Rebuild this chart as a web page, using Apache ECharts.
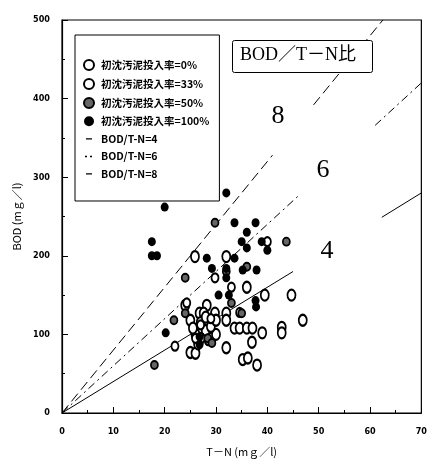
<!DOCTYPE html>
<html>
<head>
<meta charset="utf-8">
<script src="https://cdn.jsdelivr.net/npm/echarts@6/dist/echarts.min.js"></script>
<style>
html,body{margin:0;padding:0;background:#fff;}
#chart{width:430px;height:462px;}
</style>
</head>
<body>
<div id="chart"></div>
<script>
// 凡例
var names = ['初沈汚泥投入率=0%','初沈汚泥投入率=33%','初沈汚泥投入率=50%','初沈汚泥投入率=100%','BOD/T-N=4','BOD/T-N=6','BOD/T-N=8'];
var xTicks = [0,10,20,30,40,50,60,70];
var yTicks = [0,100,200,300,400,500];

// [T-N, BOD]
var rate0 = [[25.9,199],[32,199],[36,160],[39.5,150],[44.7,150],[24,137],[28.2,137],[26.8,127],[27.6,127],[29.8,127],
	[32,127],[25,118],[32,118],[33.6,108],[34.6,108],[36,108],[37.1,108],[39,102],[42.8,109],[42.8,102],[46.9,118],
	[37,90],[32,83],[25,77],[26,76],[35.2,68],[36.2,70],[38,61],[27,115],[28,105],[29,95],[30,100],[27,95],[26,100],
	[29,110],[30,118],[28,122],[26.5,88],[25.5,108]];
var rate33 = [[40,218],[29.8,172],[22,85],[24.3,140],[27,112],[29,120],[34.6,128],[28.5,92],[26,95],[33,160]];
var rate50 = [[29.8,242],[43.7,218],[36,186],[32,180],[24,172],[33,140],[35,127],[24,127],[21.8,118],[18,61],
	[28.4,95],[29.2,89]];
var rate100 = [[32,280],[20,262],[17.5,218],[17.5,200],[18.5,200],[33.6,242],[37.7,242],[36,230],[35,218],[38.9,218],
	[36,210],[40,207],[28.2,197],[33.6,197],[29.2,184],[32,184],[35.2,182],[37.9,182],[32,172],[30.5,150],[32.5,150],
	[37.7,143],[37.8,135],[20.2,102],[26.8,97],[26.8,87]];
// 比の直線 (切れ目あり)
var line4 = [[0,0],[45,180],'-',[62.3,249],[70,280]];
var line6 = [[0,0],[46,276],'-',[61,366],[70,420]];
var line8 = [[0,0],[41,328],'-',[49,392],[62.5,500]];

// 凡例アイコン (外枠の点で 10x10 の枠を固定)
var iconLine = 'path://M0,0h.01v.01h-.01z M2,4.5h6v1.2h-6z M9.99,9.99h.01v.01h-.01z';
var iconDots = 'path://M0,0h.01v.01h-.01z M1,4.5h2v1.4h-2z M6,4.5h2v1.4h-2z M9.99,9.99h.01v.01h-.01z';

var myChart = echarts.init(document.getElementById('chart'));
var axisFont = {fontFamily:'Liberation Sans Narrow, DejaVu Sans Condensed, sans-serif',fontSize:9,fontWeight:'bold',color:'#000'};
var option = {
	animation:false,
	backgroundColor:'#fff',
	grid:{left:62,right:8,top:20,bottom:49,show:true,borderColor:'#000',borderWidth:1.2},
	legend:{
		orient:'vertical',
		left:75, top:35,
		width:143,
		padding:[24,10,22,8],
		itemGap:7,
		itemWidth:10,
		itemHeight:10,
		borderColor:'#000',
		borderWidth:1,
		textStyle:{fontFamily:'Noto Sans CJK JP',fontSize:10.5,color:'#000',fontWeight:'bold',padding:[0,0,0,2]},
		data:[
			{name:names[0]},
			{name:names[1]},
			{name:names[2]},
			{name:names[3]},
			{name:names[4],icon:iconLine,itemStyle:{color:'#000'}},
			{name:names[5],icon:iconDots,itemStyle:{color:'#000'}},
			{name:names[6],icon:iconLine,itemStyle:{color:'#000'}}
		]
	},
	xAxis:{
		type:'value', min:0, max:70, interval:10,
		name:'T－N (mｇ／l)', nameLocation:'middle', nameGap:33,
		nameTextStyle:{fontFamily:'Noto Sans CJK JP',fontSize:11,color:'#000'},
		axisLine:{lineStyle:{color:'#000',width:1.2}},
		axisTick:{inside:true,length:6,lineStyle:{color:'#000'}},
		minorTick:{show:true,splitNumber:2,length:3,lineStyle:{color:'#000'}},
		splitLine:{show:false},
		axisLabel:Object.assign({margin:14}, axisFont)
	},
	yAxis:{
		type:'value', min:0, max:500, interval:100,
		name:'BOD (mｇ／l)', nameLocation:'middle', nameGap:36,
		nameTextStyle:{fontFamily:'Noto Sans CJK JP',fontSize:11,color:'#000'},
		axisLine:{lineStyle:{color:'#000',width:1.2}},
		axisTick:{inside:true,length:6,lineStyle:{color:'#000'}},
		minorTick:{show:true,splitNumber:2,length:3,lineStyle:{color:'#000'}},
		splitLine:{show:false},
		axisLabel:Object.assign({margin:12}, axisFont)
	},
	graphic:[
		{type:'rect',left:232,top:40,shape:{width:140,height:32,r:2},style:{fill:'#fff',stroke:'#000',lineWidth:1},z:10},
		{type:'text',left:240,top:46,style:{text:'BOD／T－N比',font:'18px "Liberation Serif", "Noto Sans CJK JP"',fill:'#000'},z:11},
		{type:'text',x:278,y:116,style:{text:'8',font:'26px "Liberation Serif"',fill:'#000',align:'center',verticalAlign:'middle'},z:11},
		{type:'text',x:323,y:170,style:{text:'6',font:'26px "Liberation Serif"',fill:'#000',align:'center',verticalAlign:'middle'},z:11},
		{type:'text',x:327,y:251,style:{text:'4',font:'26px "Liberation Serif"',fill:'#000',align:'center',verticalAlign:'middle'},z:11}
	],
	series:[
		{name:names[0],type:'scatter',data:rate0,symbol:'emptyCircle',symbolSize:[8,11],
			itemStyle:{color:'#000',borderColor:'#000',borderWidth:1.1,opacity:1},z:5},
		{name:names[1],type:'scatter',data:rate33,symbol:'emptyCircle',symbolSize:[7,9],
			itemStyle:{color:'#000',borderColor:'#000',borderWidth:1.8,opacity:1},z:5},
		{name:names[2],type:'scatter',data:rate50,symbol:'circle',symbolSize:[7,8],
			itemStyle:{color:'#666',borderColor:'#000',borderWidth:1.8,opacity:1},z:6},
		{name:names[3],type:'scatter',data:rate100,symbol:'circle',symbolSize:[8,9],
			itemStyle:{color:'#000',opacity:1},z:7},
		{name:names[4],type:'line',data:line4,symbol:'none',connectNulls:false,color:'#000',
			lineStyle:{color:'#000',width:1}},
		{name:names[5],type:'line',data:line6,symbol:'none',connectNulls:false,color:'#000',
			lineStyle:{color:'#000',width:1,type:[8,4,2,4]}},
		{name:names[6],type:'line',data:line8,symbol:'none',connectNulls:false,color:'#000',
			lineStyle:{color:'#000',width:1,type:[10,5]}}
	]
};
myChart.setOption(option);
</script>
</body>
</html>
